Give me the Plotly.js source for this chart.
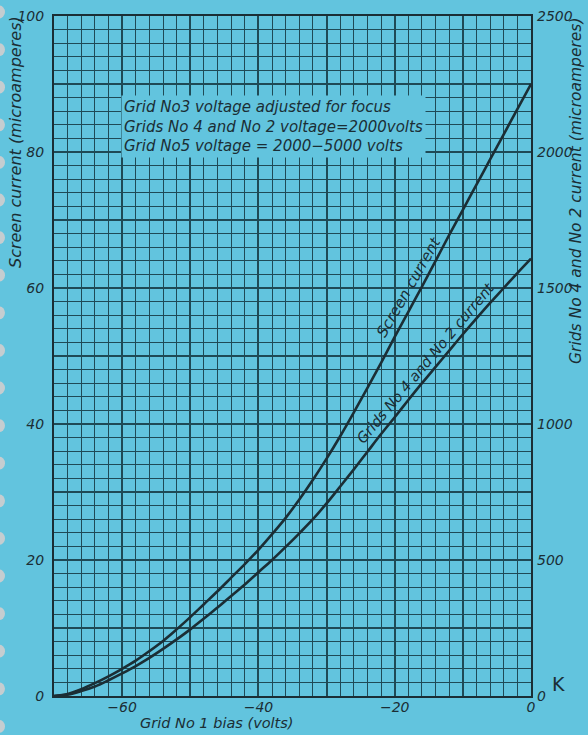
<!DOCTYPE html>
<html>
<head>
<meta charset="utf-8">
<script src="https://cdn.plot.ly/plotly-3.0.1.min.js"></script>
<style>
  html, body { margin: 0; padding: 0; background: #62c4de; }
  #chart { width: 588px; height: 735px; }
</style>
</head>
<body>
<div id="chart"></div>
<script>
// Grid No 1 bias (volts)
const biasVolts = [-70, -68, -66, -64, -62, -60, -58, -56, -54, -52, -50, -48, -46, -44, -42, -40, -38, -36, -34, -32, -30, -28, -26, -24, -22, -20, -18, -16, -14, -12, -10, -8, -6, -4, -2, 0];
// Screen current (microamperes), left axis
const screenCurrent = [0, 0.3, 1.0, 1.9, 2.9, 4.0, 5.2, 6.6, 8.1, 9.8, 11.6, 13.5, 15.4, 17.4, 19.4, 21.5, 23.8, 26.2, 28.9, 31.8, 34.9, 38.2, 41.7, 45.3, 49.0, 52.8, 56.5, 60.2, 64.0, 67.8, 71.5, 75.2, 78.9, 82.6, 86.3, 90.0];
// Grids No 4 and No 2 current (microamperes), right axis
const gridCurrent = [0, 5, 18, 35, 58, 83, 110, 140, 173, 208, 245, 285, 325, 368, 410, 455, 500, 548, 598, 650, 708, 770, 833, 898, 963, 1025, 1088, 1150, 1210, 1270, 1330, 1388, 1445, 1500, 1555, 1608];

// Tick labels
const xTickVals = [-70, -60, -50, -40, -30, -20, -10, 0];
const xTickText = ['', '\u221260', '', '\u221240', '', '\u221220', '', '0'];
const yTickVals = [0, 10, 20, 30, 40, 50, 60, 70, 80, 90, 100];
const yTickText = ['0', '', '20', '', '40', '', '60', '', '80', '', '100'];
const y2TickVals = [0, 500, 1000, 1500, 2000, 2500];
const y2TickText = ['0', '500', '1000', '1500', '2000', '2500'];

const bg = '#62c4de';
const ink = '#1b2e35';
const gridInk = '#1f4a56';
const dv = 'DejaVu Sans, sans-serif';
function tf(size) { return {family: dv, size: size, color: ink, style: 'italic'}; }
const tickFont = tf(14);

const traces = [
  {x: biasVolts, y: screenCurrent, type: 'scatter', mode: 'lines', line: {color: ink, width: 2.6, shape: 'spline'}, yaxis: 'y', hoverinfo: 'skip'},
  {x: biasVolts, y: gridCurrent, type: 'scatter', mode: 'lines', line: {color: ink, width: 2.6, shape: 'spline'}, yaxis: 'y2', hoverinfo: 'skip'}
];

// binder holes along left edge of the photographed page
const holes = [];
for (let i = 0; i < 20; i++) {
  const cy = 12 + i * 37.6;
  holes.push({type: 'circle', xref: 'paper', yref: 'paper', xsizemode: 'pixel', ysizemode: 'pixel',
    xanchor: 0, yanchor: (696 - cy) / 680, x0: -61, x1: -49, y0: -6.5, y1: 6.5,
    line: {width: 0}, fillcolor: '#c5cdd0'});
}

const layout = {
  width: 588, height: 735,
  margin: {l: 54, r: 57, t: 16, b: 39},
  paper_bgcolor: bg, plot_bgcolor: bg,
  showlegend: false,
  xaxis: {
    range: [-70, 0], tickmode: 'array', tickvals: xTickVals, ticktext: xTickText,
    showgrid: true, gridcolor: gridInk, gridwidth: 2,
    minor: {dtick: 2, tick0: 0, showgrid: true, gridcolor: gridInk, gridwidth: 1},
    showline: true, linecolor: ink, linewidth: 2, mirror: true,
    ticks: '', tickfont: tickFont, zeroline: false, ticklabelstandoff: -3
  },
  yaxis: {
    range: [0, 100], tickmode: 'array', tickvals: yTickVals, ticktext: yTickText,
    showgrid: true, gridcolor: gridInk, gridwidth: 2,
    minor: {dtick: 2, tick0: 0, showgrid: true, gridcolor: gridInk, gridwidth: 1},
    showline: true, linecolor: ink, linewidth: 2, mirror: true,
    ticks: '', tickfont: tickFont, zeroline: false, ticklabelstandoff: 5
  },
  yaxis2: {
    range: [0, 2500], overlaying: 'y', side: 'right', tickmode: 'array', tickvals: y2TickVals, ticktext: y2TickText,
    showgrid: false, zeroline: false, ticks: '', tickfont: tickFont, ticklabelstandoff: 5
  },
  annotations: [
    {text: 'Screen current (microamperes)', textangle: -90, xref: 'paper', yref: 'paper', x: (15 - 54) / 477, y: (696 - 142) / 680,
     xanchor: 'center', yanchor: 'middle', showarrow: false, font: tf(16)},
    {text: 'Grids No 4 and No 2 current (microamperes)', textangle: -90, xref: 'paper', yref: 'paper', x: (576 - 54) / 477, y: (696 - 191) / 680,
     xanchor: 'center', yanchor: 'middle', showarrow: false, font: tf(15.5)},
    {text: 'Grid No 1 bias (volts)', xref: 'paper', yref: 'paper', x: (217 - 54) / 477, y: (696 - 723) / 680,
     xanchor: 'center', yanchor: 'middle', showarrow: false, font: tf(14.5)},
    {text: 'Grid No3 voltage adjusted for focus<br>Grids No 4 and No 2 voltage=2000volts<br>Grid No5 voltage = 2000\u22125000 volts',
     xref: 'paper', yref: 'paper', x: (121 - 54) / 477, y: (696 - 95) / 680, xanchor: 'left', yanchor: 'top', align: 'left',
     showarrow: false, bgcolor: bg, borderpad: 2, font: tf(15)},
    {text: 'Screen current', xref: 'x', yref: 'y', x: -17.9, y: 60.1, textangle: -60,
     xanchor: 'center', yanchor: 'middle', showarrow: false, font: tf(15)},
    {text: 'Grids No 4 and No 2 current', xref: 'x', yref: 'y', x: -15.5, y: 49.0, textangle: -50,
     xanchor: 'center', yanchor: 'middle', showarrow: false, font: tf(14.5)},
    {text: 'K', xref: 'paper', yref: 'paper', x: (550 - 54) / 477, y: (696 - 684) / 680, xanchor: 'left', yanchor: 'middle',
     showarrow: false, font: {family: 'DejaVu Sans, sans-serif', size: 19, color: ink}}
  ],
  shapes: holes
};

Plotly.newPlot('chart', traces, layout, {staticPlot: true});
</script>
</body>
</html>
